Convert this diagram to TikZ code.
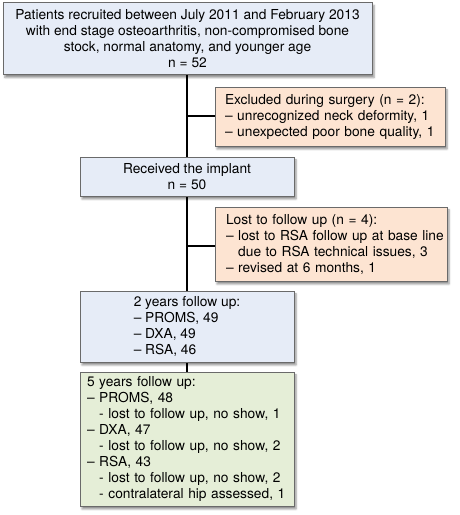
\documentclass[tikz,border=0pt]{standalone}
\usepackage{fontspec}
\setmainfont{TeX Gyre Heros}
\usetikzlibrary{shadows.blur,backgrounds}
\definecolor{boxline}{HTML}{6A6A6A}
\definecolor{bluefill}{HTML}{E6ECF7}
\definecolor{orangefill}{HTML}{FDE4D2}
\definecolor{greenfill}{HTML}{E5EED7}
\tikzset{
	box/.style={draw=boxline, line width=0.9pt, inner sep=0pt,
		blur shadow={shadow xshift=2pt, shadow yshift=-3pt, shadow blur radius=2pt, shadow opacity=45}},
	trunk/.style={line width=2pt, black},
}
\begin{document}
\begin{tikzpicture}[x=1pt, y=1pt, font=\fontsize{13.75}{16}\selectfont]
	\useasboundingbox (0,0) rectangle (459,515);
	\node [box, fill=bluefill, minimum width=369, minimum height=72, align=center] (top) at (187.5,476.5)
		{Patients recruited between July 2011 and February 2013\\
		 with end stage osteoarthritis, non-compromised bone\\
		 stock, normal anatomy, and younger age\\
		 n = 52};
	\node [box, fill=orangefill, minimum width=230, minimum height=59, text width=210, align=left] (excl) at (330,398.5)
		{Excluded during surgery (n = 2):\\
		 \mbox{– unrecognized neck deformity, 1}\\
		 \mbox{– unexpected poor bone quality, 1}};
	\node [box, fill=bluefill, minimum width=214, minimum height=39, align=center] (recv) at (187,338.5)
		{Received the implant\\ n = 50};
	\node [box, fill=orangefill, minimum width=232, minimum height=74, text width=210, align=left] (lost) at (331,271)
		{Lost to follow up (n = 4):\\
		 \mbox{– lost to RSA follow up at base line}\\
		 \phantom{– }due to RSA technical issues, 3\\
		 – revised at 6 months, 1};
	\node [box, fill=bluefill, minimum width=214, minimum height=71, align=left] (two) at (187,188.5)
		{2 years follow up:\\
		 – PROMS, 49\\
		 – DXA, 49\\
		 – RSA, 46};
	\node [box, fill=greenfill, minimum width=214, minimum height=134, text width=200, align=left] (five) at (187,76)
		{5 years follow up:\\
		 – PROMS, 48\\
		 \phantom{– }- lost to follow up, no show, 1\\
		 – DXA, 47\\
		 \phantom{– }- lost to follow up, no show, 2\\
		 – RSA, 43\\
		 \phantom{– }- lost to follow up, no show, 2\\
		 \phantom{– }- contralateral hip assessed, 1};
	\begin{scope}[on background layer]
		\draw [trunk] (top.south -| recv.north) -- (five.north);
		\draw [trunk] (excl.west) -- (excl.west -| recv.north);
		\draw [trunk] ([yshift=-2]lost.west) -- ([yshift=-2]lost.west -| recv.north);
	\end{scope}
\end{tikzpicture}
\end{document}
